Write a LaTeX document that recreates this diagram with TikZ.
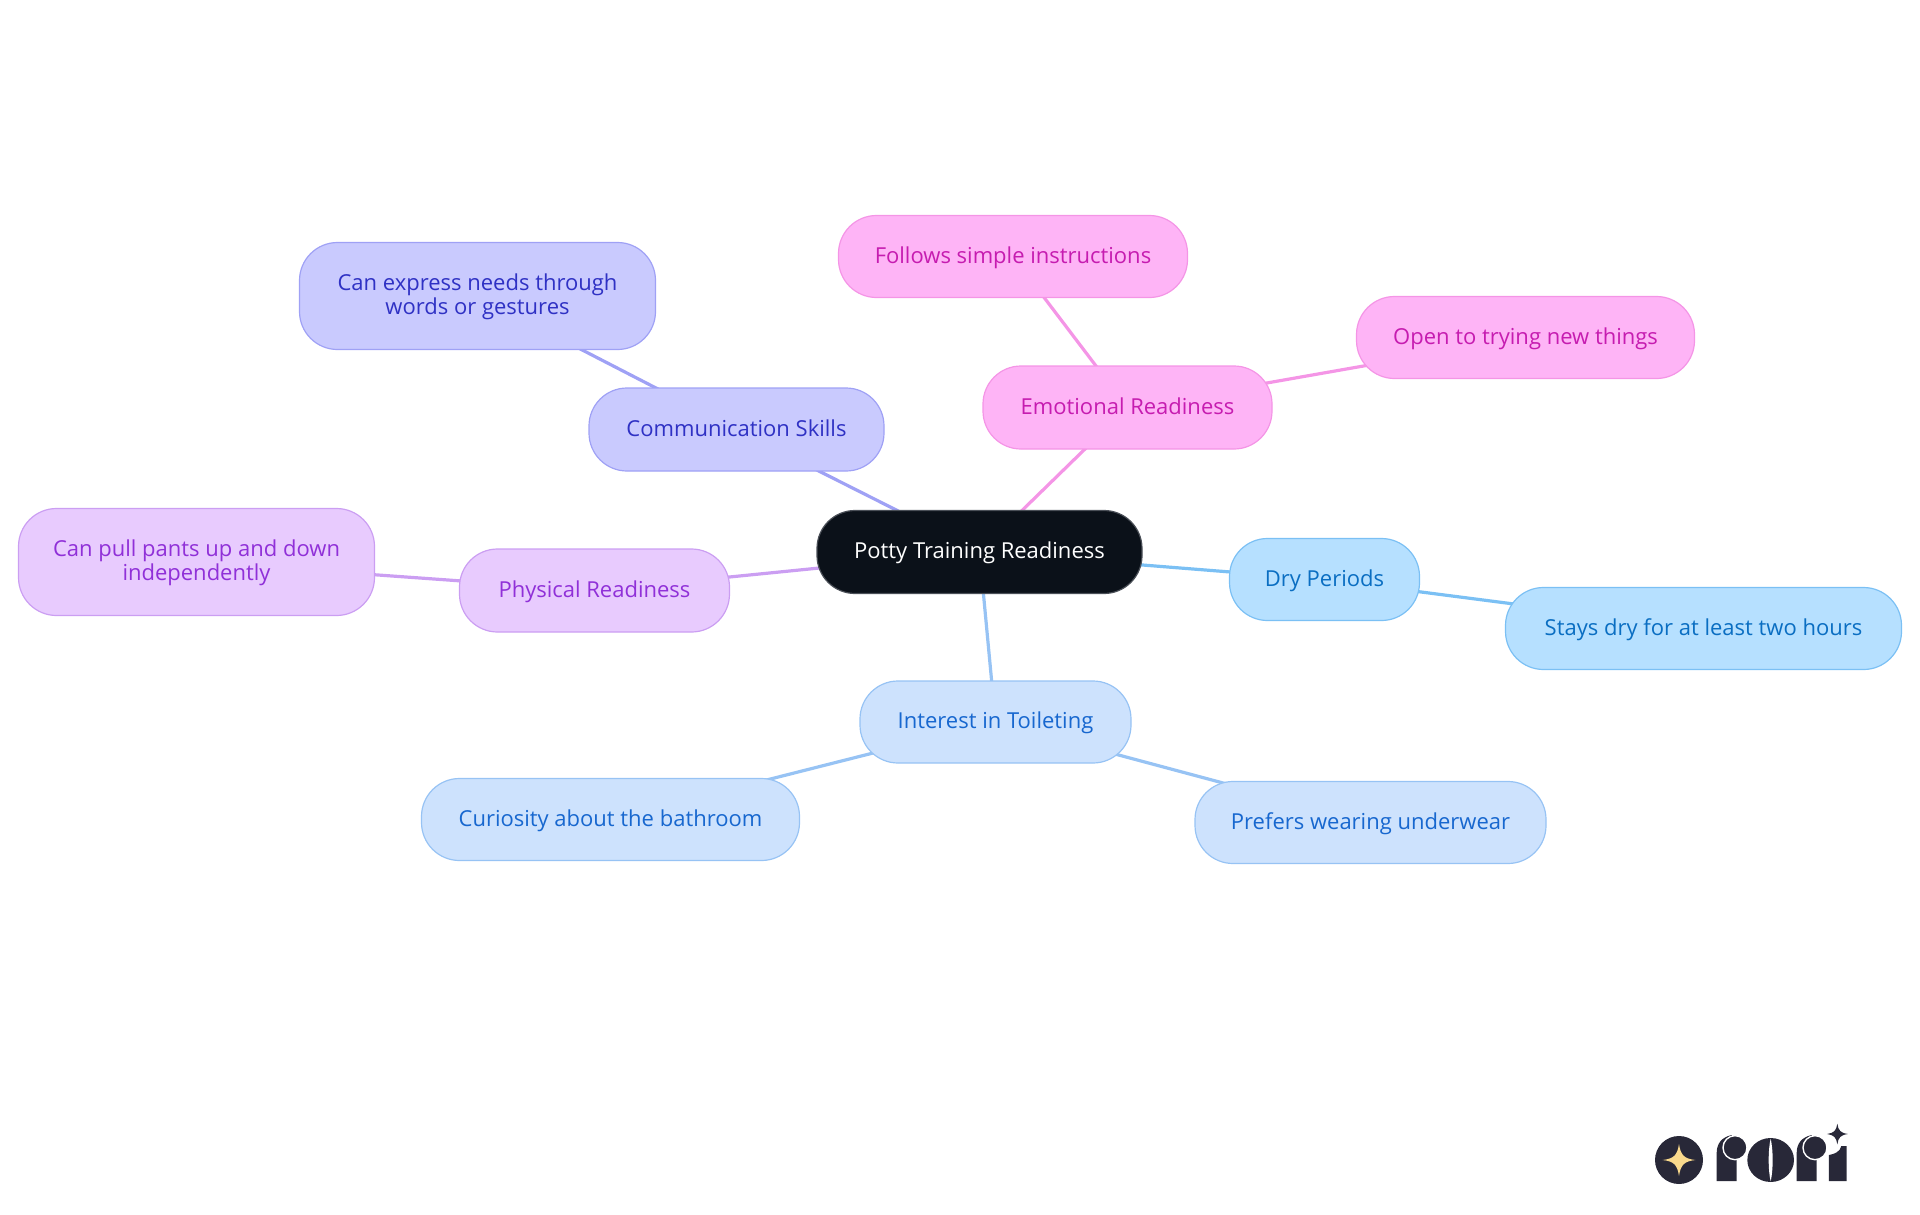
\documentclass[tikz,border=0pt]{standalone}
\usepackage{fontspec}
\setmainfont{Open Sans}
\usetikzlibrary{backgrounds}
\definecolor{rootfill}{HTML}{0B1119}
\definecolor{rootline}{HTML}{4A4F57}
\definecolor{commfill}{HTML}{C9CAFE}
\definecolor{commline}{HTML}{9FA1F5}
\definecolor{commtext}{HTML}{2F31C4}
\definecolor{emofill}{HTML}{FEB4F6}
\definecolor{emoline}{HTML}{F495E6}
\definecolor{emotext}{HTML}{C61CB0}
\definecolor{physfill}{HTML}{E8CBFE}
\definecolor{physline}{HTML}{CB9EF2}
\definecolor{phystext}{HTML}{9030D8}
\definecolor{dryfill}{HTML}{B6E0FF}
\definecolor{dryline}{HTML}{7BC0F4}
\definecolor{drytext}{HTML}{0A6EC2}
\definecolor{intfill}{HTML}{CDE2FD}
\definecolor{intline}{HTML}{97C3F4}
\definecolor{inttext}{HTML}{1767CF}
\definecolor{logodark}{HTML}{282838}
\definecolor{logostar}{HTML}{F9D98C}

\begin{document}
\begin{tikzpicture}[x=1pt,y=-1pt,
    box/.style={rounded corners=38pt,inner sep=0pt,line width=1.2pt,align=center,
        font=\fontsize{22pt}{24pt}\selectfont},
    rootbox/.style={box,fill=rootfill,draw=rootline,text=white},
    commbox/.style={box,fill=commfill,draw=commline,text=commtext},
    emobox/.style={box,fill=emofill,draw=emoline,text=emotext},
    physbox/.style={box,fill=physfill,draw=physline,text=phystext},
    drybox/.style={box,fill=dryfill,draw=dryline,text=drytext},
    intbox/.style={box,fill=intfill,draw=intline,text=inttext},
    oneline/.style={text height=18pt,text depth=5pt},
    link/.style={line width=3.2pt}]
    \useasboundingbox (0,0) rectangle (1920,1215);
    \node[rootbox,oneline,minimum width=325pt,minimum height=83pt] (root) at (979.5,552) {Potty Training Readiness};
    \node[commbox,oneline,minimum width=295pt,minimum height=83pt] (comm) at (736.5,429.5) {Communication Skills};
    \node[commbox,minimum width=356pt,minimum height=107pt] (needs) at (477.5,296) {\rule{0pt}{19pt}Can express needs through\\words or gestures};
    \node[emobox,oneline,minimum width=289pt,minimum height=83pt] (emo) at (1127.5,407.5) {Emotional Readiness};
    \node[emobox,oneline,minimum width=349pt,minimum height=82pt] (follows) at (1013,256.5) {Follows simple instructions};
    \node[emobox,oneline,minimum width=338pt,minimum height=82pt] (open) at (1525.5,337.5) {Open to trying new things};
    \node[physbox,oneline,minimum width=270pt,minimum height=83pt] (phys) at (594.5,590.5) {Physical Readiness};
    \node[physbox,minimum width=356pt,minimum height=107pt] (pull) at (196.5,562) {\rule{0pt}{19pt}Can pull pants up and down\\independently};
    \node[drybox,oneline,minimum width=190pt,minimum height=82pt] (dry) at (1324.5,579.5) {Dry Periods};
    \node[drybox,oneline,minimum width=396pt,minimum height=82pt] (stays) at (1703.5,628.5) {Stays dry for at least two hours};
    \node[intbox,oneline,minimum width=271pt,minimum height=82pt] (toilet) at (995.5,722) {Interest in Toileting};
    \node[intbox,oneline,minimum width=378pt,minimum height=82pt] (curious) at (610.5,819.5) {Curiosity about the bathroom};
    \node[intbox,oneline,minimum width=351pt,minimum height=82pt] (under) at (1370.5,822.5) {Prefers wearing underwear};
    \begin{pgfonlayer}{background}
        \draw[link,commline] (root.center)--(comm.center);
        \draw[link,commline] (comm.center)--(needs.center);
        \draw[link,emoline] (root.center)--(emo.center);
        \draw[link,emoline] (emo.center)--(follows.center);
        \draw[link,emoline] (emo.center)--(open.center);
        \draw[link,physline] (root.center)--(phys.center);
        \draw[link,physline] (phys.center)--(pull.center);
        \draw[link,dryline] (root.center)--(dry.center);
        \draw[link,dryline] (dry.center)--(stays.center);
        \draw[link,intline] (root.center)--(toilet.center);
        \draw[link,intline] (toilet.center)--(curious.center);
        \draw[link,intline] (toilet.center)--(under.center);
    \end{pgfonlayer}
    % logo
    \begin{scope}[shift={(1620,1100)},x=0.3333pt,y=-0.3333pt]
        \fill[logodark] (177,180) circle[radius=72];
        \fill[logostar] (177,132) .. controls (182,165) and (192,176) .. (226,180) .. controls (192,184) and (182,195) .. (177,228) .. controls (172,195) and (162,184) .. (128,180) .. controls (162,176) and (172,165) .. (177,132)--cycle;
        \fill[logodark] (290,243)--(290,160) .. controls (290,130) and (305,112) .. (335,105)--(350,180)--(350,243)--cycle;
        \filldraw[fill=logodark,draw=white,line width=1.4pt] (345,143) circle[radius=36];
        \fill[logodark] (452,180) ellipse[x radius=70,y radius=66];
        \fill[white] (452,116) .. controls (444,150) and (444,210) .. (452,244) .. controls (460,210) and (460,150) .. (452,116)--cycle;
        \fill[logodark] (530,243)--(530,160) .. controls (530,130) and (545,112) .. (575,105)--(590,180)--(590,243)--cycle;
        \filldraw[fill=logodark,draw=white,line width=1.4pt] (585,143) circle[radius=36];
        \fill[logodark] (627,243)--(627,165) .. controls (645,162) and (660,155) .. (664,138)--(680,138)--(680,243)--cycle;
        \fill[logodark] (652,71) .. controls (655,92) and (662,99) .. (684,102) .. controls (662,105) and (655,112) .. (652,133) .. controls (649,112) and (642,105) .. (621,102) .. controls (642,99) and (649,92) .. (652,71)--cycle;
    \end{scope}
\end{tikzpicture}
\end{document}
